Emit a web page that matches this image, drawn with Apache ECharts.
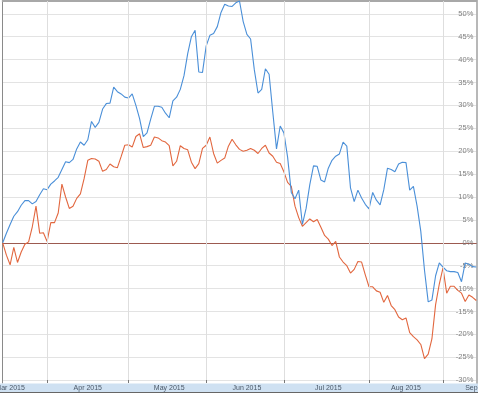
<!DOCTYPE html>
<html><head><meta charset="utf-8">
<script src="https://cdn.jsdelivr.net/npm/echarts@6/dist/echarts.min.js"></script>
<style>html,body{margin:0;padding:0;background:#fff;overflow:hidden}#c{width:478px;height:393px}</style>
</head><body><div id="c"></div>
<script>
// Month names and number of trading days shown in each month
const monthNames = ['Mar 2015','Apr 2015','May 2015','Jun 2015','Jul 2015','Aug 2015','Sep 2015'];
const tradingDays = [12,22,21,21,23,20,10];
// Category index where each month label is printed
const monthLabelIdx = [2,23,45,66,88,109,125];
// Y tick labels
const yTicks = {min:-35, max:55, step:5};

// Series values (% change)
const blueSeries = [0,2.1,4.0,5.8,6.8,8.2,9.2,9.2,8.5,9.0,
  10.5,11.8,11.6,12.8,13.5,14.3,16.0,17.7,17.5,18.2,
  20.5,22.0,21.3,22.5,26.5,25.2,26.3,29.2,30.4,30.5,
  34.0,33.0,32.5,31.8,31.6,32.5,30.0,27.1,23.2,24.0,
  27.0,29.8,29.8,29.6,28.3,27.3,31.0,31.8,33.5,36.5,
  41.3,45.0,46.4,37.3,37.2,43.0,45.3,45.7,47.2,50.3,
  52.1,51.7,51.6,52.4,52.8,48.3,45.5,44.5,37.8,32.7,
  33.5,38.0,36.8,28.5,20.5,25.5,24.0,18.7,11.0,9.6,
  11.5,4.0,7.5,12.7,16.8,16.7,13.7,13.3,16.3,18.0,
  18.9,19.4,22.0,21.1,12.0,9.0,11.5,9.8,8.4,7.4,
  11.0,9.3,8.3,11.6,16.3,16.0,15.5,17.2,17.6,17.5,
  11.5,12.3,8.0,2.5,-6.0,-12.9,-12.5,-7.2,-4.4,-5.3,
  -6.1,-6.3,-6.3,-6.5,-8.5,-4.4,-4.7,-5.2,-5.3];
const redSeries = [0,-2.7,-4.8,-1.0,-4.3,-2.0,-0.3,0.2,3.5,8.0,
  2.1,2.2,0.3,4.4,4.4,6.5,12.8,10.0,7.5,8.0,
  9.7,10.7,14.0,18.0,18.4,18.3,17.8,15.6,16.0,17.2,
  16.6,16.4,18.8,21.3,21.4,20.9,23.2,23.8,20.8,21.0,
  21.3,23.1,22.9,22.3,22.0,21.2,16.8,17.8,21.2,20.6,
  20.3,17.6,16.2,17.3,20.6,21.3,23.1,19.5,17.4,18.0,
  18.5,21.1,22.6,21.4,20.4,20.0,20.2,20.6,20.2,19.5,
  20.6,21.3,19.6,18.9,17.6,17.3,15.5,13.2,12.3,8.0,
  5.5,3.6,4.4,5.2,4.6,5.1,3.4,1.6,0.8,-0.6,
  0.3,-3.1,-4.2,-5.0,-6.6,-5.8,-4.1,-4.2,-7.0,-9.6,
  -9.6,-10.5,-10.8,-13.0,-11.5,-13.7,-14.6,-16.2,-16.8,-16.4,
  -19.6,-20.5,-21.2,-22.2,-25.3,-24.3,-21.0,-13.5,-9.0,-5.5,
  -11.0,-9.5,-9.5,-10.4,-11.0,-12.8,-11.4,-11.9,-12.6];

// Build categories
const cats = [];
const monthStart = [];
monthNames.forEach((m, k) => {
  monthStart.push(cats.length);
  for (let d = 1; d <= tradingDays[k]; d++) cats.push(m + ' #' + d);
});
const boundaries = monthStart.slice(1);
const labelCats = cats.map((c, i) => (i === monthLabelIdx[monthLabelIdx.length - 1])
  ? {value: c, textStyle: {align: 'left'}} : c);

const PX = 4.58; // px per percent (layout)
const zeroY = 242.8;
const gTop = zeroY - yTicks.max * PX;
const gBottom = 393 - (zeroY - yTicks.min * PX);

const chart = echarts.init(document.getElementById('c'), null, {renderer: 'canvas'});
chart.setOption({
  animation: false,
  backgroundColor: '#fff',
  grid: [
    {left: 2.7, right: 1.7, top: gTop, bottom: gBottom, containLabel: false, outerBoundsMode: 'none'},
    {left: 2.7, right: 1.7, top: 1, bottom: 10, containLabel: false, outerBoundsMode: 'none'}
  ],
  xAxis: [
    {gridIndex: 0, type: 'category', data: cats, boundaryGap: false,
     axisLine: {show: true, onZero: true, lineStyle: {color: '#9c5a50', width: 1}},
     axisTick: {show: false}, axisLabel: {show: false}, splitLine: {show: false}},
    {gridIndex: 1, type: 'category', data: labelCats, boundaryGap: false, position: 'bottom', z: 5,
     axisLine: {show: false},
     axisTick: {show: true, inside: true, length: 3, interval: (i) => boundaries.includes(i),
                lineStyle: {color: '#777'}},
     splitLine: {show: true, interval: (i) => boundaries.includes(i), lineStyle: {color: '#dedede', width: 1}},
     axisLabel: {show: true, interval: (i) => monthLabelIdx.includes(i), margin: 2,
                 showMinLabel: true, showMaxLabel: true,
                 formatter: (v, i) => monthNames[monthLabelIdx.indexOf(i)],
                 fontFamily: 'Liberation Sans', fontSize: 7, color: '#4a5868'}},
    {gridIndex: 1, type: 'category', data: cats, boundaryGap: false, position: 'top',
     axisLine: {show: true, lineStyle: {color: '#a8a8a8', width: 2}},
     axisTick: {show: false}, axisLabel: {show: false}, splitLine: {show: false}}
  ],
  yAxis: [
    {gridIndex: 0, type: 'value', min: yTicks.min, max: yTicks.max, interval: yTicks.step, position: 'right',
     axisLine: {show: true, lineStyle: {color: '#a0a0a0', width: 1.5}},
     axisTick: {show: false},
     axisLabel: {inside: true, margin: 3, formatter: '{value}%', fontFamily: 'Liberation Sans',
                 fontSize: 7.5, color: '#808080'},
     splitLine: {show: true, lineStyle: {color: '#e3e3e3', width: 1}}},
    {gridIndex: 1, type: 'value', min: 0, max: 1, position: 'left',
     axisLine: {show: true, lineStyle: {color: '#8a8a8a', width: 1}},
     axisTick: {show: false}, axisLabel: {show: false}, splitLine: {show: false}}
  ],
  graphic: [
    {type: 'rect', z: 1, shape: {x: 0, y: 383.5, width: 478, height: 9}, style: {fill: '#cfe1f2'}},
    {type: 'rect', z: 1, shape: {x: 0, y: 392, width: 478, height: 1}, style: {fill: '#666'}}
  ],
  series: [
    {type: 'line', xAxisIndex: 0, yAxisIndex: 0, data: redSeries, symbol: 'none',
     lineStyle: {color: '#e2673f', width: 1.1}, z: 3},
    {type: 'line', xAxisIndex: 0, yAxisIndex: 0, data: blueSeries, symbol: 'none',
     lineStyle: {color: '#4a8fd8', width: 1.1}, z: 4}
  ]
});
</script></body></html>
